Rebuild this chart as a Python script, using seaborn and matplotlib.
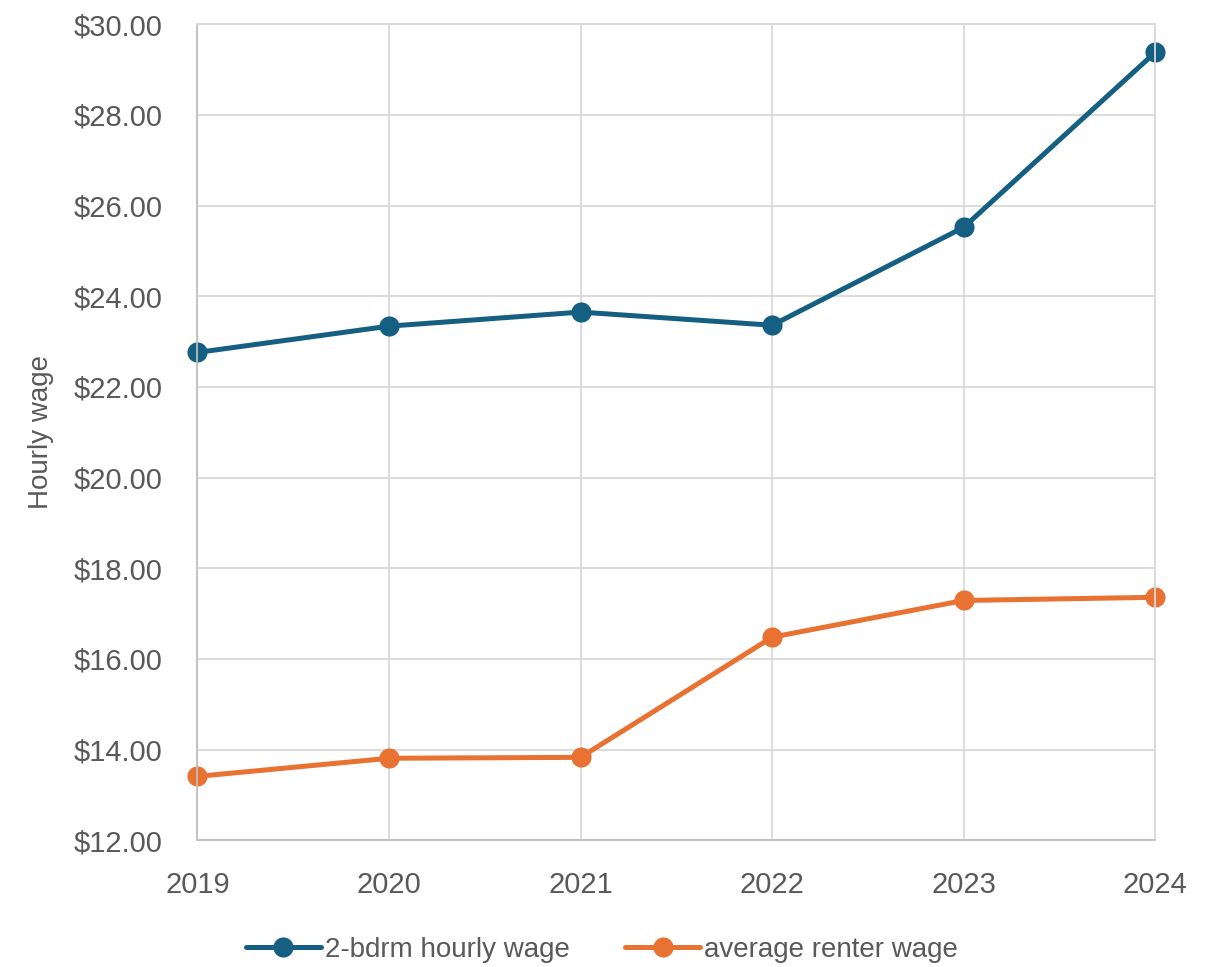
import matplotlib
matplotlib.use("Agg")
import matplotlib.pyplot as plt
import seaborn as sns
import pandas as pd
from matplotlib.ticker import FuncFormatter, MultipleLocator

years = [2019, 2020, 2021, 2022, 2023, 2024]
two_bdrm_wage = [22.76, 23.34, 23.65, 23.36, 25.52, 29.38]
renter_wage = [13.41, 13.81, 13.83, 16.48, 17.29, 17.36]
series_names = ["2-bdrm hourly wage", "average renter wage"]

df = pd.DataFrame({
    "year": years * 2,
    "wage": two_bdrm_wage + renter_wage,
    "series": [series_names[0]] * len(years) + [series_names[1]] * len(years),
})

sns.set_theme(style="white")
plt.rcParams["font.family"] = ["Liberation Sans", "DejaVu Sans"]

text_color = "#595959"
grid_color = "#d9d9d9"
palette = {series_names[0]: "#156082", series_names[1]: "#e97132"}

fig = plt.figure(figsize=(12.11, 9.67), dpi=100)
ax = fig.add_axes([0.163, 0.131, 0.791, 0.844])

sns.lineplot(data=df, x="year", y="wage", hue="series", palette=palette,
             marker="o", markersize=14.5, markeredgewidth=0, linewidth=3.6,
             ax=ax, legend=True)

ax.set_xlim(2019, 2024)
ax.set_ylim(12, 30)
ax.yaxis.set_major_locator(MultipleLocator(2))
ax.set_xticks(years)
ax.yaxis.set_major_formatter(FuncFormatter(lambda v, _: f"${v:,.2f}"))

ax.grid(True, color=grid_color, linewidth=1.3)
ax.set_axisbelow(True)
for sp in ax.spines.values():
    sp.set_visible(True)
    sp.set_color(grid_color)
    sp.set_linewidth(1.3)
ax.spines["left"].set_color("#bfbfbf")
ax.spines["bottom"].set_color("#bfbfbf")

ax.tick_params(axis="both", colors=text_color, labelsize=21, length=0)
ax.tick_params(axis="y", pad=25)
ax.tick_params(axis="x", pad=22)
ax.set_xlabel("")
ax.set_ylabel("Hourly wage", fontsize=20, color=text_color, labelpad=14)

for c in ax.lines:
    c.set_clip_on(False)

handles, labels = ax.get_legend_handles_labels()
ax.get_legend().remove()
fig.legend(handles, labels, loc="center", bbox_to_anchor=(0.497, 0.0175),
           ncol=2, frameon=False, handlelength=2.7,
           columnspacing=2.0, handletextpad=0.15,
           prop={"size": 20}, labelcolor=text_color)

fig.savefig("out.png", dpi=100, facecolor="white")
